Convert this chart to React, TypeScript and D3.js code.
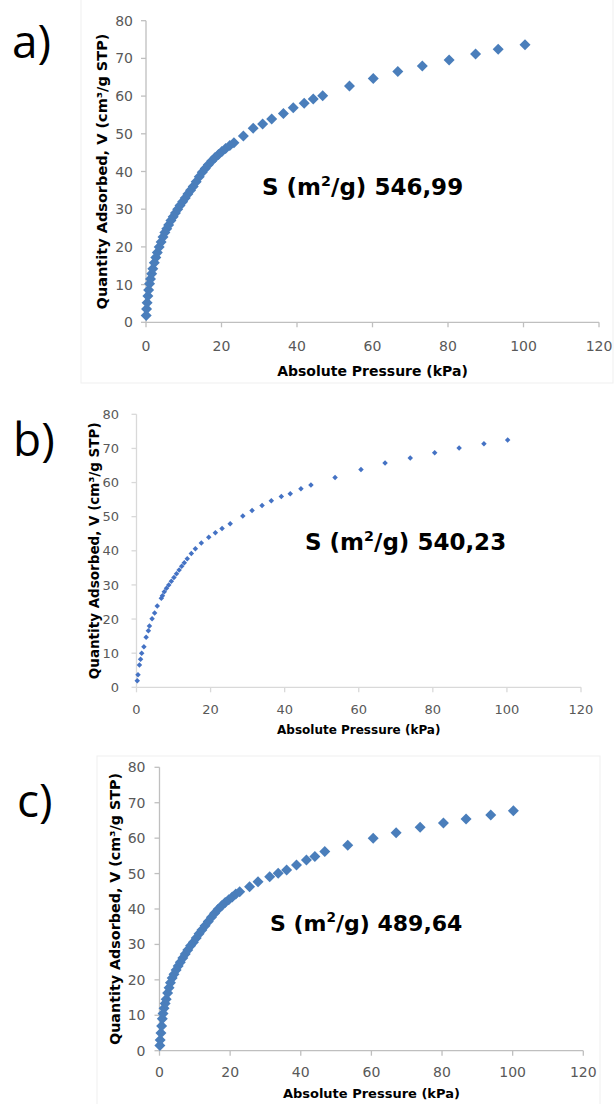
import React from 'react';
import * as d3 from 'd3';

// ---------- data ----------
const xTickValues = [0, 20, 40, 60, 80, 100, 120];
const yTickValues = [0, 10, 20, 30, 40, 50, 60, 70, 80];
const panelLabels = ['a)', 'b)', 'c)'];
const surfaceAreas = ['546,99', '540,23', '489,64'];
const xTitle = 'Absolute Pressure (kPa)';
const yTitle = 'Quantity Adsorbed, V (cm³/g STP)';

const pressureA = [0.05, 0.15, 0.3, 0.5, 0.7, 0.95, 1.2, 1.5, 1.8, 2.2, 2.6, 3.0, 3.5, 4.0, 4.5, 5.0, 5.5, 6.0, 6.6, 7.2, 7.8, 8.4, 9.0, 9.7, 10.4, 11.1, 11.8, 12.5, 13.3, 14.1, 14.9, 15.7, 16.5, 17.4, 18.3, 19.2, 20.1, 21.1, 22.2, 23.3, 25.8, 28.4, 30.9, 33.3, 36.4, 39.0, 41.9, 44.3, 46.8, 53.9, 60.2, 66.7, 73.2, 80.3, 87.3, 93.3, 100.4];
const volumeA = [1.8, 3.5, 5.2, 7.0, 8.6, 10.2, 11.5, 12.9, 14.2, 15.8, 17.2, 18.5, 20.0, 21.3, 22.6, 23.8, 24.8, 25.8, 27.0, 28.0, 29.0, 30.0, 31.0, 32.0, 33.0, 34.0, 35.0, 36.0, 37.3, 38.6, 39.8, 40.8, 41.8, 42.8, 43.7, 44.5, 45.3, 46.1, 46.9, 47.6, 49.4, 51.5, 52.6, 53.9, 55.4, 56.9, 58.1, 59.2, 60.1, 62.7, 64.7, 66.5, 68.0, 69.6, 71.2, 72.4, 73.6];

const pressureB = [0.2, 0.4, 0.8, 1.1, 1.4, 2.0, 2.6, 3.2, 3.5, 4.2, 4.9, 5.6, 6.7, 7.0, 7.5, 8.1, 8.7, 9.4, 10.1, 10.8, 11.5, 12.2, 12.9, 13.7, 14.8, 15.9, 17.5, 19.5, 21.3, 23.1, 25.3, 28.7, 31.2, 33.9, 36.4, 39.1, 41.5, 44.4, 47.1, 53.6, 60.6, 67.1, 73.9, 80.5, 87.1, 93.8, 100.2];
const volumeB = [1.9, 3.7, 6.5, 8.2, 10.0, 11.9, 14.7, 16.6, 18.0, 20.1, 21.8, 23.8, 26.1, 26.8, 28.0, 29.0, 30.0, 31.1, 32.2, 33.3, 34.4, 35.5, 36.5, 37.7, 39.2, 40.6, 42.3, 44.0, 45.3, 46.5, 47.9, 50.2, 51.8, 53.3, 54.7, 55.9, 56.7, 58.2, 59.3, 61.5, 63.8, 65.7, 67.2, 68.7, 70.1, 71.4, 72.5];

const pressureC = [0.1, 0.2, 0.4, 0.6, 0.8, 1.0, 1.3, 1.6, 1.9, 2.3, 2.7, 3.1, 3.6, 4.1, 4.7, 5.3, 5.9, 6.6, 7.3, 8.0, 8.8, 9.6, 10.4, 11.2, 12.0, 12.9, 13.8, 14.7, 15.6, 16.6, 17.6, 18.6, 19.6, 20.6, 21.6, 22.7, 25.5, 27.9, 31.2, 33.6, 36.0, 38.8, 41.6, 44.0, 46.8, 53.3, 60.5, 67.0, 73.8, 80.4, 86.8, 93.8, 100.2];
const volumeC = [1.5, 3.0, 5.0, 7.0, 9.0, 10.5, 12.0, 13.3, 14.5, 16.3, 17.8, 19.2, 20.5, 21.6, 22.8, 23.9, 25.0, 26.2, 27.3, 28.4, 29.6, 30.6, 31.8, 33.0, 34.1, 35.3, 36.5, 37.7, 38.8, 39.9, 40.9, 41.8, 42.6, 43.4, 44.2, 44.9, 46.3, 47.7, 49.1, 50.1, 51.0, 52.4, 53.8, 54.8, 56.2, 58.0, 60.0, 61.5, 63.1, 64.3, 65.4, 66.5, 67.7];

const pressures = [pressureA, pressureB, pressureC];
const volumes = [volumeA, volumeB, volumeC];

// ---------- layout / style ----------
const FONT = '"DejaVu Sans", sans-serif';
const layouts = [
  {
    left: 146, right: 599, top: 20.7, bottom: 322.3,
    tickFont: 14, xTickBaseline: 350.5, yLabelRight: 133,
    xTitleFont: 14, xTitleBaseline: 376, yTitleFont: 14.5, yTitleX: 107,
    marker: 11, color: '#4A7EBB', axisColor: '#bfbfbf',
    labelX: 12, labelBaseline: 58,
    annX: 262, annBaseline: 195, annFont: 23, annWeight: 700,
    frame: { x: 81, y: -2, w: 532, h: 385 },
  },
  {
    left: 136.5, right: 581, top: 414.3, bottom: 687.3,
    tickFont: 13, xTickBaseline: 713.5, yLabelRight: 119,
    xTitleFont: 12, xTitleBaseline: 734, yTitleFont: 13.5, yTitleX: 99,
    marker: 5.5, color: '#4472C4', axisColor: '#d9d9d9',
    labelX: 13, labelBaseline: 456,
    annX: 305, annBaseline: 550, annFont: 23, annWeight: 600,
    frame: null,
  },
  {
    left: 159.5, right: 583.3, top: 767.3, bottom: 1050.7,
    tickFont: 14, xTickBaseline: 1076.5, yLabelRight: 145.5,
    xTitleFont: 13, xTitleBaseline: 1098, yTitleFont: 14.3, yTitleX: 120,
    marker: 11, color: '#4A7EBB', axisColor: '#bfbfbf',
    labelX: 17, labelBaseline: 817,
    annX: 270, annBaseline: 930.5, annFont: 22, annWeight: 700,
    frame: { x: 97, y: 756, w: 503, h: 360 },
  },
];

const diamond = {
  draw(ctx: any, size: number) {
    const r = Math.sqrt(size) / 2;
    ctx.moveTo(0, -r);
    ctx.lineTo(r, 0);
    ctx.lineTo(0, r);
    ctx.lineTo(-r, 0);
    ctx.closePath();
  },
};

function Panel({ i }: { i: number }) {
  const L = layouts[i];
  const P = pressures[i];
  const V = volumes[i];
  const x = d3.scaleLinear().domain([0, 120]).range([L.left, L.right]);
  const y = d3.scaleLinear().domain([0, 80]).range([L.bottom, L.top]);
  const symPath = d3.symbol(diamond as any, L.marker * L.marker)() as string;
  const yMid = (L.top + L.bottom) / 2;
  const xMid = (L.left + L.right) / 2;
  const tickColor = '#595959';
  const supDy = -L.annFont * 0.38;

  return (
    <g>
      {L.frame && (
        <rect x={L.frame.x} y={L.frame.y} width={L.frame.w} height={L.frame.h}
          fill="none" stroke="#efefef" strokeWidth={1} />
      )}
      <text x={L.labelX} y={L.labelBaseline} fontFamily='"Open Sans", sans-serif'
        fontSize={46} fill="#000">{panelLabels[i]}</text>

      {/* axes */}
      <line x1={L.left} x2={L.right} y1={L.bottom} y2={L.bottom} stroke={L.axisColor} strokeWidth={1.3} />
      <line x1={L.left} x2={L.left} y1={L.top} y2={L.bottom} stroke={L.axisColor} strokeWidth={1.3} />
      {xTickValues.map((t) => (
        <g key={'xt' + t}>
          <line x1={x(t)} x2={x(t)} y1={L.bottom} y2={L.bottom + 5} stroke={L.axisColor} strokeWidth={1.3} />
          <text x={x(t)} y={L.xTickBaseline} textAnchor="middle" fontFamily={FONT}
            fontSize={L.tickFont} fill={tickColor}>{t}</text>
        </g>
      ))}
      {yTickValues.map((t) => (
        <g key={'yt' + t}>
          <line x1={L.left - 5} x2={L.left} y1={y(t)} y2={y(t)} stroke={L.axisColor} strokeWidth={1.3} />
          <text x={L.yLabelRight} y={y(t)} dy="0.36em" textAnchor="end" fontFamily={FONT}
            fontSize={L.tickFont} fill={tickColor}>{t}</text>
        </g>
      ))}

      {/* titles */}
      <text x={xMid} y={L.xTitleBaseline} textAnchor="middle" fontFamily={FONT}
        fontWeight="bold" fontSize={L.xTitleFont} fill="#000">{xTitle}</text>
      <text transform={`translate(${L.yTitleX},${yMid}) rotate(-90)`} textAnchor="middle"
        fontFamily={FONT} fontWeight="bold" fontSize={L.yTitleFont} fill="#000">{yTitle}</text>

      {/* markers */}
      {P.map((p, k) => (
        <path key={k} d={symPath} transform={`translate(${x(p)},${y(V[k])})`} fill={L.color} />
      ))}

      {/* annotation */}
      <text x={L.annX} y={L.annBaseline} fontFamily={FONT} fontWeight={L.annWeight}
        fontSize={L.annFont} fill="#000">
        <tspan>S (m</tspan>
        <tspan dy={supDy} fontSize={L.annFont * 0.62}>2</tspan>
        <tspan dy={-supDy}>/g) {surfaceAreas[i]}</tspan>
      </text>
    </g>
  );
}

export default function App() {
  return (
    <>
      <style>{'body{margin:0;background:#fff}'}</style>
      <svg width={614} height={1104} viewBox="0 0 614 1104" style={{ display: 'block' }}>
        <rect x={0} y={0} width={614} height={1104} fill="#fff" />
        {[0, 1, 2].map((i) => <Panel key={i} i={i} />)}
      </svg>
    </>
  );
}
